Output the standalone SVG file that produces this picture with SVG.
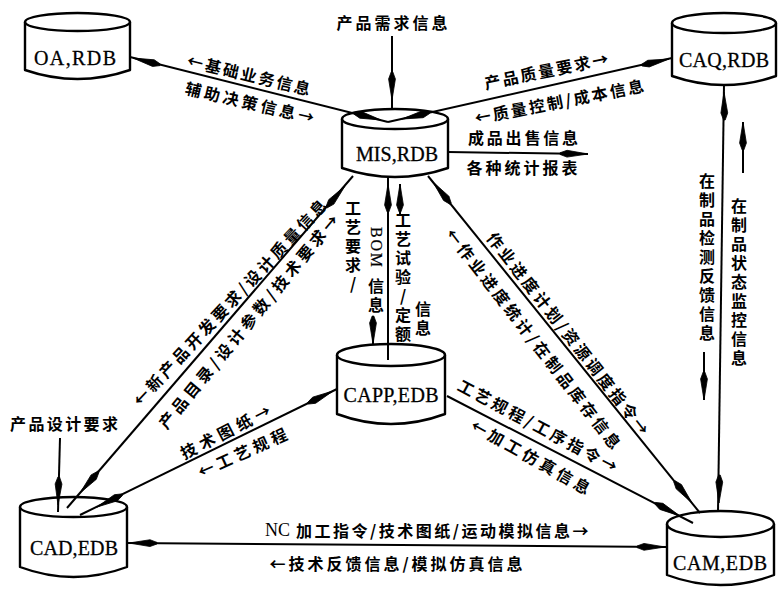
<svg xmlns="http://www.w3.org/2000/svg" xmlns:xlink="http://www.w3.org/1999/xlink" width="780" height="592" viewBox="0 0 780 592">
<style>
.cyl{fill:#fff;stroke:#000;stroke-width:2.4;stroke-linejoin:round}
.ln{stroke:#000;stroke-width:2;fill:none}
.ah{fill:#000;stroke:#000;stroke-width:0.8;stroke-linejoin:round}
.zh{font-family:"Noto Sans CJK SC","Noto Sans CJK JP",sans-serif;font-size:16px;font-weight:bold;fill:#000;text-anchor:middle;dominant-baseline:central}
.vt{writing-mode:vertical-rl;text-orientation:upright;letter-spacing:3px}
.nd{font-family:"Liberation Serif",serif;font-size:20px;fill:#000;stroke:#000;stroke-width:0.3;text-anchor:middle;dominant-baseline:central}
.sf{font-family:"Liberation Serif",serif;font-weight:normal;letter-spacing:0}
</style>
<defs>
<path id="ah" class="ah" d="M0,0 L-21,-3.4 L-28,-0.8 L-28,0.8 L-21,3.4 Z"/>
</defs>
<rect width="780" height="592" fill="#fff"/>
<g id="nodes">
<g id="oa"><path class="cyl" d="M25,22 L25,70 Q77.5,88 130,70 L130,22"/><ellipse class="cyl" cx="77.5" cy="22" rx="52.5" ry="9"/><text class="nd" x="75" y="58" textLength="82" lengthAdjust="spacing">OA,RDB</text></g>
<g id="mis"><path class="cyl" d="M342,119 L342,168 Q395,186 448,168 L448,119"/><ellipse class="cyl" cx="395" cy="119" rx="53" ry="10"/><text class="nd" x="397" y="154" textLength="82" lengthAdjust="spacing">MIS,RDB</text></g>
<g id="caq"><path class="cyl" d="M672,23 L672,76 Q724,94 776,76 L776,23"/><ellipse class="cyl" cx="724" cy="23" rx="52" ry="10"/><text class="nd" x="724" y="60" textLength="90" lengthAdjust="spacing">CAQ,RDB</text></g>
<g id="capp"><path class="cyl" d="M337,355 L337,414 Q391,434 445,414 L445,355"/><ellipse class="cyl" cx="391" cy="355" rx="54" ry="11"/><text class="nd" x="391" y="395" textLength="95" lengthAdjust="spacing">CAPP,EDB</text></g>
<g id="cad"><path class="cyl" d="M20,507 L20,567 Q73.5,587 127,567 L127,507"/><ellipse class="cyl" cx="73.5" cy="507" rx="53.5" ry="10"/><text class="nd" x="74" y="548" textLength="88" lengthAdjust="spacing">CAD,EDB</text></g>
<g id="cam"><path class="cyl" d="M667,524 L667,575 Q720.5,595 774,575 L774,524"/><ellipse class="cyl" cx="720.5" cy="524" rx="53.5" ry="13"/><text class="nd" x="720" y="563" textLength="94" lengthAdjust="spacing">CAM,EDB</text></g>
</g>
<g id="connectors">
<line class="ln" x1="130" y1="57" x2="388" y2="122"/>
<line class="ln" x1="388" y1="122" x2="672" y2="58"/>
<line class="ln" x1="392" y1="36" x2="392" y2="110"/>
<line class="ln" x1="448" y1="152" x2="588" y2="154"/>
<line class="ln" x1="353" y1="176" x2="67" y2="508"/>
<line class="ln" x1="388" y1="178" x2="388" y2="360"/>
<line class="ln" x1="400" y1="184" x2="400" y2="214"/>
<line class="ln" x1="373" y1="316" x2="373" y2="344"/>
<line class="ln" x1="428" y1="176" x2="700" y2="513"/>
<line class="ln" x1="447" y1="396" x2="693" y2="523"/>
<line class="ln" x1="724" y1="85" x2="718" y2="512"/>
<line class="ln" x1="743" y1="173" x2="743" y2="122"/>
<line class="ln" x1="704" y1="352" x2="704" y2="400"/>
<line class="ln" x1="80" y1="515" x2="337" y2="389"/>
<line class="ln" x1="60" y1="438" x2="58" y2="512"/>
<line class="ln" x1="127" y1="543" x2="667" y2="547"/>
<use xlink:href="#ah" transform="translate(133,58) rotate(194.1)"/>
<use xlink:href="#ah" transform="translate(381,120) rotate(14.1)"/>
<use xlink:href="#ah" transform="translate(669,59) rotate(-12.7)"/>
<use xlink:href="#ah" transform="translate(402,119) rotate(167.3)"/>
<use xlink:href="#ah" transform="translate(392,100) rotate(90)"/>
<use xlink:href="#ah" transform="translate(588,154) rotate(0.8)"/>
<use xlink:href="#ah" transform="translate(345,186) rotate(-49.2)"/>
<use xlink:href="#ah" transform="translate(80,493) rotate(130.8)"/>
<use xlink:href="#ah" transform="translate(388,184) rotate(-90)"/>
<use xlink:href="#ah" transform="translate(400,184) rotate(-90)"/>
<use xlink:href="#ah" transform="translate(373,344) rotate(90)"/>
<use xlink:href="#ah" transform="translate(433,182) rotate(231)"/>
<use xlink:href="#ah" transform="translate(692,503) rotate(51)"/>
<use xlink:href="#ah" transform="translate(680,516) rotate(27.3)"/>
<use xlink:href="#ah" transform="translate(724,92) rotate(-90.8)"/>
<use xlink:href="#ah" transform="translate(719,503) rotate(90.8)"/>
<use xlink:href="#ah" transform="translate(743,122) rotate(-90)"/>
<use xlink:href="#ah" transform="translate(704,400) rotate(90)"/>
<use xlink:href="#ah" transform="translate(333,391) rotate(-26.1)"/>
<use xlink:href="#ah" transform="translate(97,507) rotate(153.9)"/>
<use xlink:href="#ah" transform="translate(58,505) rotate(91.5)"/>
<use xlink:href="#ah" transform="translate(129,543) rotate(180.4)"/>
<use xlink:href="#ah" transform="translate(665,547) rotate(0.4)"/>
</g>
<g id="labels">
<text class="zh" x="392" y="22" textLength="111" lengthAdjust="spacing">产品需求信息</text>
<text class="zh" transform="translate(249,74) rotate(13.5)" textLength="126" lengthAdjust="spacing">←基础业务信息</text>
<text class="zh" transform="translate(250,102) rotate(13.2)" textLength="132" lengthAdjust="spacing">辅助决策信息→</text>
<text class="zh" transform="translate(546,70) rotate(-11.5)" textLength="126" lengthAdjust="spacing">产品质量要求→</text>
<text class="zh" transform="translate(559,101) rotate(-11)" textLength="172" lengthAdjust="spacing">←质量控制/成本信息</text>
<text class="zh" x="523" y="137" textLength="110" lengthAdjust="spacing">成品出售信息</text>
<text class="zh" x="522" y="167" textLength="111" lengthAdjust="spacing">各种统计报表</text>
<text class="zh" transform="translate(229,302) rotate(-46.9)" textLength="275" lengthAdjust="spacing">←新产品开发要求/设计质量信息</text>
<text class="zh" transform="translate(248,321) rotate(-50.4)" textLength="272" lengthAdjust="spacing">产品目录/设计参数/技术要求→</text>
<text class="zh" transform="translate(569,333) rotate(51.9)" textLength="252" lengthAdjust="spacing">作业进度计划/资源调度指令→</text>
<text class="zh" transform="translate(534,338) rotate(52.2)" textLength="274" lengthAdjust="spacing">←作业进度统计/在制品库存信息</text>
<text class="zh" transform="translate(538,425) rotate(28)" textLength="178" lengthAdjust="spacing">工艺规程/工序指令→</text>
<text class="zh" transform="translate(531,456) rotate(29.4)" textLength="134" lengthAdjust="spacing">←加工仿真信息</text>
<text class="zh" transform="translate(225,431) rotate(-27.2)" textLength="99" lengthAdjust="spacing">技术图纸→</text>
<text class="zh" transform="translate(242,452) rotate(-24.3)" textLength="96" lengthAdjust="spacing">←工艺规程</text>
<text class="zh" x="64" y="423" textLength="108" lengthAdjust="spacing">产品设计要求</text>
<text class="zh" x="428" y="530" style="letter-spacing:2.5px"><tspan class="sf" style="font-size:18px">NC</tspan><tspan dx="6">加工指令/技术图纸/运动模拟信息→</tspan></text>
<text class="zh" x="396" y="563" textLength="253" lengthAdjust="spacing">←技术反馈信息/模拟仿真信息</text>
<text class="zh vt" x="353" y="247">工艺要求/</text>
<text class="nd" style="font-size:16px;stroke-width:0.2" transform="translate(376,247) rotate(90)" textLength="40" lengthAdjust="spacing">BOM</text>
<text class="zh vt" x="376" y="297">信息</text>
<text class="zh vt" x="403" y="278">工艺试验/定额</text>
<text class="zh vt" x="423" y="320">信息</text>
<text class="zh vt" x="707" y="258">在制品检测反馈信息</text>
<text class="zh vt" x="739" y="283">在制品状态监控信息</text>
</g>
</svg>
